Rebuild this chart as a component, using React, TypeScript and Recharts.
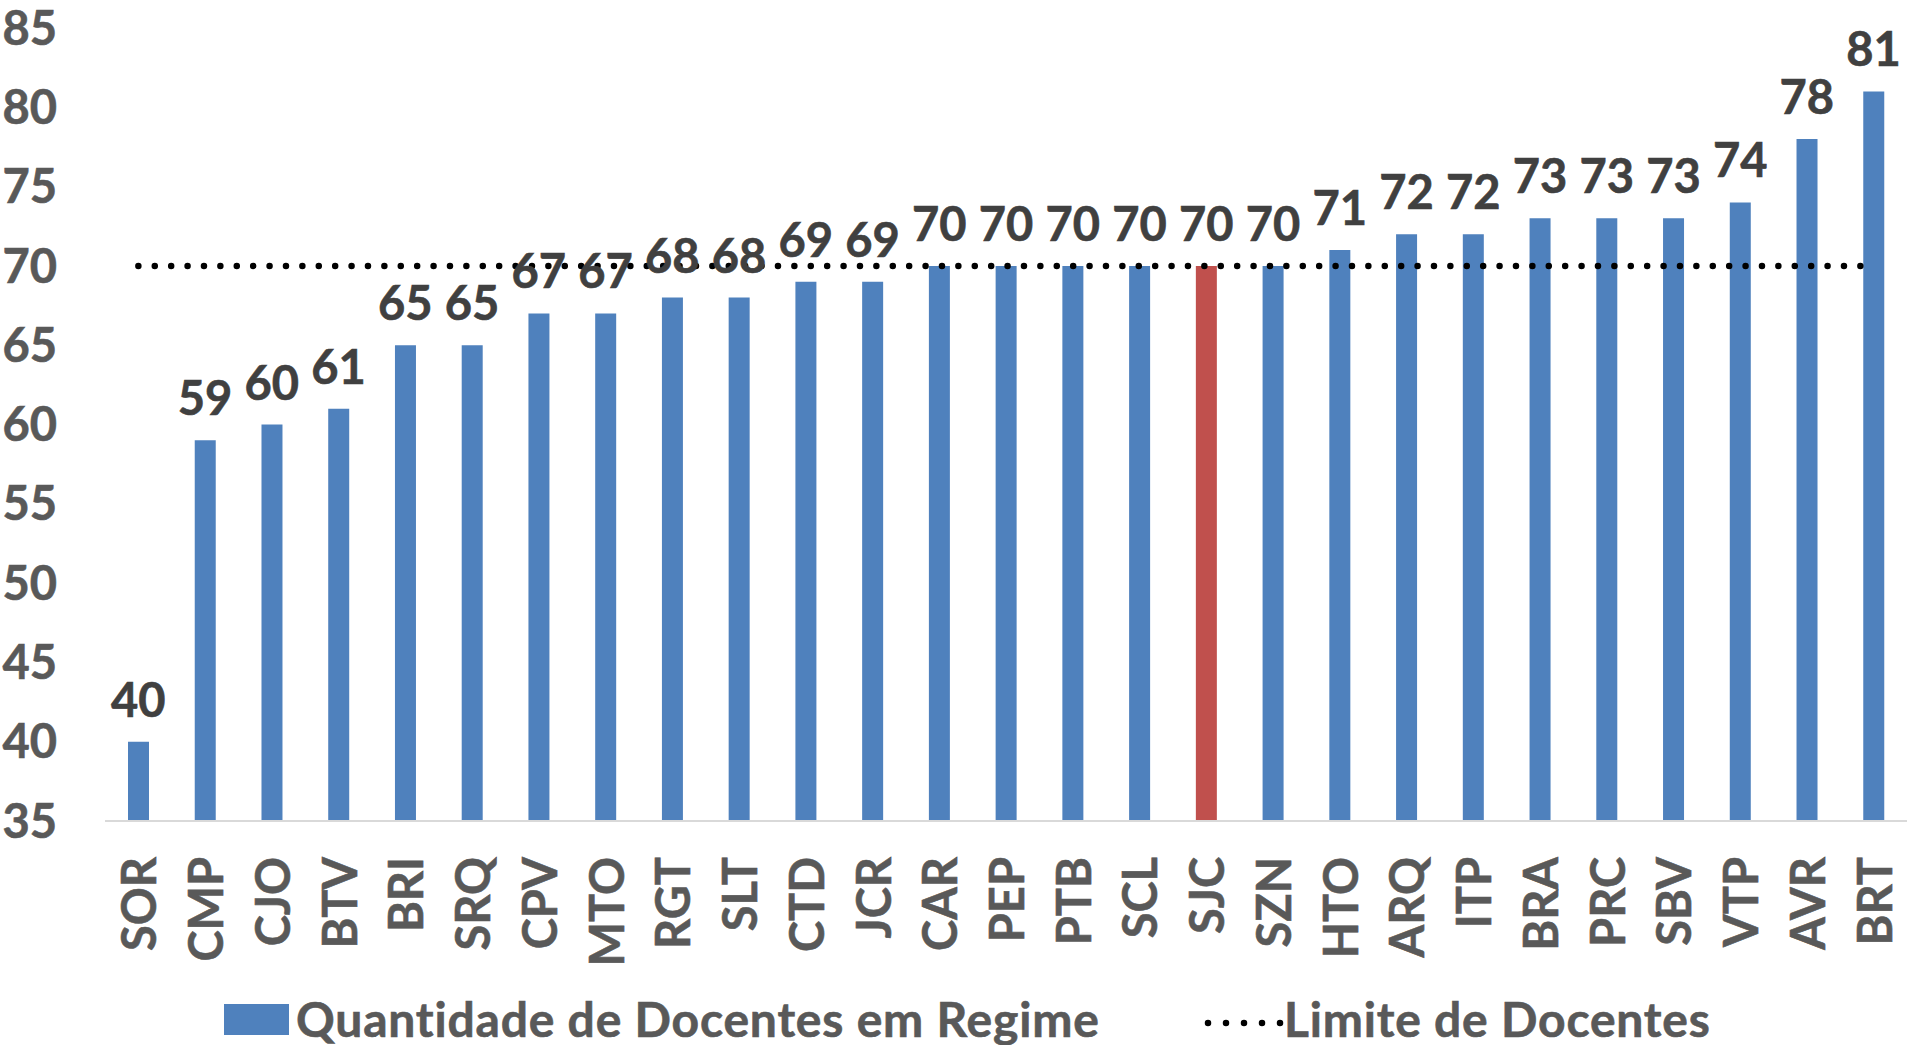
import React from "react";
import {
  ComposedChart,
  Bar,
  Line,
  XAxis,
  YAxis,
  Legend,
  Cell,
  LabelList,
} from "recharts";

const campi = [
  "SOR", "CMP", "CJO", "BTV", "BRI", "SRQ", "CPV", "MTO", "RGT", "SLT",
  "CTD", "JCR", "CAR", "PEP", "PTB", "SCL", "SJC", "SZN", "HTO", "ARQ",
  "ITP", "BRA", "PRC", "SBV", "VTP", "AVR", "BRT",
];
const docentes = [
  40, 59, 60, 61, 65, 65, 67, 67, 68, 68,
  69, 69, 70, 70, 70, 70, 70, 70, 71, 72,
  72, 73, 73, 73, 74, 78, 81,
];
const limite = 70;
const destaque = "SJC";
const yTicks = [35, 40, 45, 50, 55, 60, 65, 70, 75, 80, 85];

const BLUE = "#4F81BD";
const RED = "#C0504D";
const FONT = "Lato, 'Open Sans', sans-serif";
const FS = 47;

const data = campi.map((c, i) => ({
  campus: c,
  value: docentes[i],
  limit: limite,
}));

function CampusTick(props: any) {
  const { x, y, payload } = props;
  const ty = y + 36;
  return (
    <text
      x={x}
      y={ty}
      transform={`rotate(-90 ${x} ${ty})`}
      textAnchor="end"
      dominantBaseline="central"
      fill="#595959"
      stroke="#595959"
      strokeWidth={0.6}
      fontSize={FS}
      fontWeight="bold"
      fontFamily={FONT}
    >
      {payload.value}
    </text>
  );
}

function ChartLegend() {
  const txt: React.CSSProperties = {
    position: "absolute",
    top: 0,
    fontSize: 48,
    letterSpacing: 0.8,
    fontWeight: "bold",
    color: "#595959",
    fontFamily: FONT,
    lineHeight: "52px",
    whiteSpace: "nowrap",
    WebkitTextStroke: "0.6px #595959",
  };
  return (
    <div style={{ position: "relative", width: 1907, height: 52 }}>
      <span
        style={{
          position: "absolute",
          left: 224,
          top: 11,
          width: 65,
          height: 31,
          background: BLUE,
        }}
      />
      <span style={{ ...txt, left: 296 }}>Quantidade de Docentes em Regime</span>
      <svg
        style={{ position: "absolute", left: 1200, top: 0 }}
        width={90}
        height={52}
      >
        <line
          x1={8}
          y1={30}
          x2={80.5}
          y2={30}
          stroke="#000"
          strokeWidth={6.5}
          strokeDasharray="0 18"
          strokeLinecap="round"
        />
      </svg>
      <span style={{ ...txt, left: 1284 }}>Limite de Docentes</span>
    </div>
  );
}

export default function App() {
  return (
    <div style={{ position: "absolute", left: 0, top: 0, background: "#fff" }}>
      <ComposedChart
        width={1907}
        height={1045}
        data={data}
        margin={{ top: 28, right: 0, bottom: 0, left: 0 }}
      >
        <XAxis
          dataKey="campus"
          interval={0}
          height={172}
          tickLine={false}
          tickSize={0}
          tickMargin={0}
          axisLine={{ stroke: "#D9D9D9", strokeWidth: 2 }}
          tick={<CampusTick />}
        />
        <YAxis
          width={105}
          domain={[35, 85]}
          ticks={yTicks}
          allowDataOverflow
          axisLine={false}
          tickLine={false}
          tickSize={0}
          tickMargin={48}
          tick={{
            fill: "#595959",
            stroke: "#595959",
            strokeWidth: 0.6,
            fontSize: FS,
            fontWeight: "bold",
            fontFamily: FONT,
          }}
        />
        <Legend
          verticalAlign="bottom"
          height={52}
          wrapperStyle={{ left: 0, width: 1907, height: 52 }}
          content={() => <ChartLegend />}
        />
        <Bar dataKey="value" barSize={21} isAnimationActive={false}>
          {data.map((d) => (
            <Cell key={d.campus} fill={d.campus === destaque ? RED : BLUE} />
          ))}
        </Bar>
        <Line
          dataKey="limit"
          stroke="#000"
          strokeWidth={6.5}
          strokeDasharray="0 16.4"
          strokeLinecap="round"
          dot={false}
          activeDot={false}
          isAnimationActive={false}
        />
        <Line
          dataKey="value"
          stroke="none"
          dot={false}
          activeDot={false}
          legendType="none"
          isAnimationActive={false}
        >
          <LabelList
            dataKey="value"
            position="top"
            offset={25}
            fill="#404040"
            stroke="#404040"
            strokeWidth={0.6}
            fontSize={FS}
            fontWeight="bold"
            fontFamily={FONT}
          />
        </Line>
      </ComposedChart>
    </div>
  );
}
